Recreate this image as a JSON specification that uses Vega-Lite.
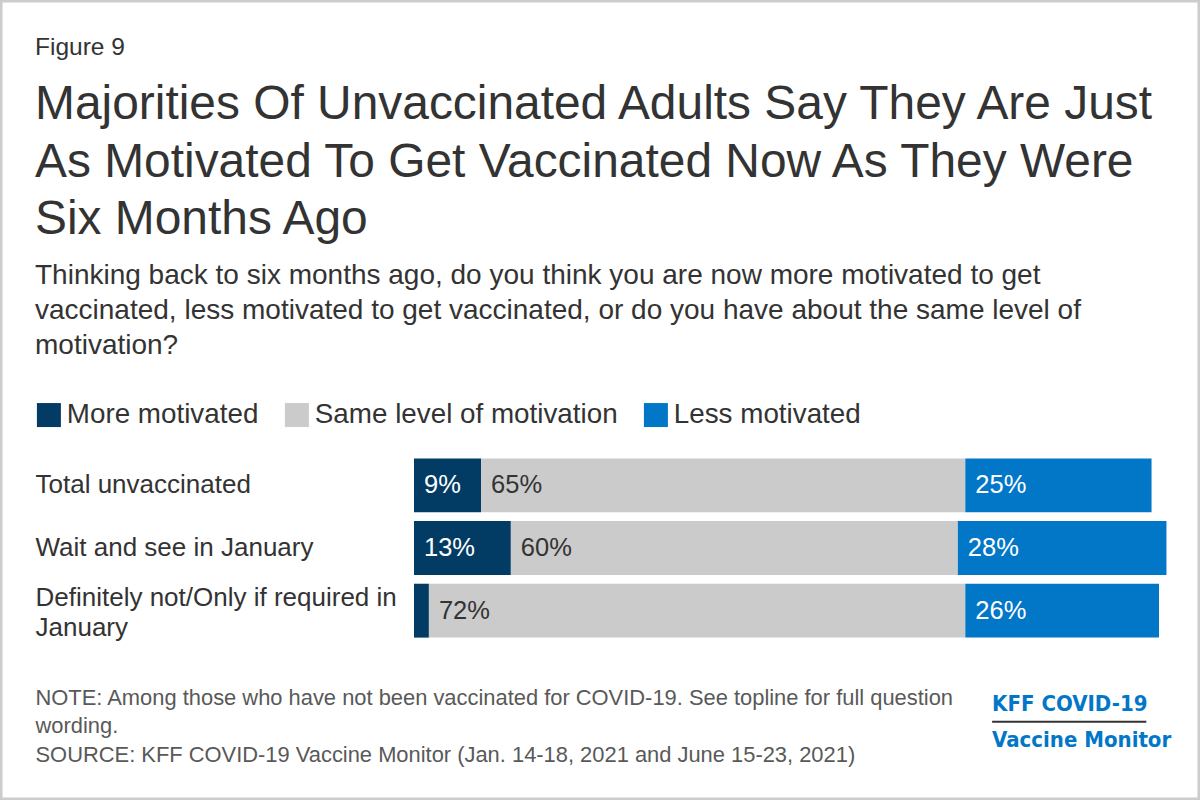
{
  "$schema": "https://vega.github.io/schema/vega-lite/v6.json",
  "width": 1200,
  "height": 800,
  "autosize": {"type": "fit", "contains": "padding"},
  "padding": 0,
  "background": "white",
  "config": {
    "font": "Liberation Sans",
    "view": {"stroke": "#cccccc", "strokeWidth": 5}
  },
  "title": {
    "text": "Figure 9",
    "subtitle": ["Majorities Of Unvaccinated Adults Say They Are Just", "As Motivated To Get Vaccinated Now As They Were", "Six Months Ago"],
    "anchor": "start",
    "frame": "group",
    "orient": "top",
    "offset": -245,
    "dx": 35,
    "fontSize": 24.5,
    "fontWeight": "normal",
    "color": "#333333",
    "subtitleFontSize": 47.9,
    "subtitleColor": "#333333",
    "subtitleLineHeight": 57.5,
    "subtitlePadding": 21
  },
  "datasets": {
    "bars": [
      {"group": "Total unvaccinated", "response": "More motivated", "order": 1, "value": 9},
      {"group": "Total unvaccinated", "response": "Same level of motivation", "order": 2, "value": 65},
      {"group": "Total unvaccinated", "response": "Less motivated", "order": 3, "value": 25},
      {"group": "Wait and see in January", "response": "More motivated", "order": 1, "value": 13},
      {"group": "Wait and see in January", "response": "Same level of motivation", "order": 2, "value": 60},
      {"group": "Wait and see in January", "response": "Less motivated", "order": 3, "value": 28},
      {"group": "Definitely not/Only if required in|January", "response": "More motivated", "order": 1, "value": 2},
      {"group": "Definitely not/Only if required in|January", "response": "Same level of motivation", "order": 2, "value": 72},
      {"group": "Definitely not/Only if required in|January", "response": "Less motivated", "order": 3, "value": 26}
    ],
    "logo": [
      {"logo": "KFF COVID-19\nVaccine Monitor"}
    ]
  },
  "layer": [
    {
      "data": {"name": "bars"},
      "transform": [
        {"stack": "value", "groupby": ["group"], "sort": [{"field": "order", "order": "ascending"}], "as": ["start", "end"]}
      ],
      "mark": {"type": "bar"},
      "encoding": {
        "y": {
          "field": "group",
          "type": "nominal",
          "title": null,
          "sort": ["Total unvaccinated", "Wait and see in January", "Definitely not/Only if required in|January"],
          "scale": {"range": [454, 642], "paddingInner": 0.14, "paddingOuter": 0.07},
          "axis": {
            "orient": "left",
            "title": null,
            "domain": false,
            "ticks": false,
            "grid": false,
            "labelPadding": -35,
            "labelAlign": "left",
            "labelBaseline": "middle",
            "labelFontSize": 26,
            "labelColor": "#333333",
            "labelLimit": 0,
            "labelLineHeight": 30,
            "labelOverlap": false,
            "labelOffset": {"condition": {"test": "indexof(datum.value, '|') >= 0", "value": -13}, "value": 0},
            "labelExpr": "split(datum.label, '|')"
          }
        },
        "x": {
          "field": "start",
          "type": "quantitative",
          "scale": {"domain": [0, 100], "range": [414, 1159], "nice": false, "zero": false},
          "axis": {
            "orient": "bottom",
            "domain": false,
            "ticks": false,
            "labels": false,
            "grid": false,
            "title": ["NOTE: Among those who have not been vaccinated for COVID-19. See topline for full question", "wording.", "SOURCE: KFF COVID-19 Vaccine Monitor (Jan. 14-18, 2021 and June 15-23, 2021)"],
            "titleX": 35,
            "titleY": -113,
            "titleAlign": "left",
            "titleAnchor": "start",
            "titleBaseline": "top",
            "titleFontSize": 21.9,
            "titleFontWeight": "normal",
            "titleColor": "#595959",
            "titleLineHeight": 28.5
          }
        },
        "x2": {"field": "end"},
        "color": {
          "field": "response",
          "type": "nominal",
          "scale": {
            "domain": ["More motivated", "Same level of motivation", "Less motivated"],
            "range": ["#023c64", "#cbcbcb", "#0277c8"]
          },
          "legend": {
            "orient": "none",
            "legendX": 35,
            "legendY": 262,
            "direction": "horizontal",
            "title": ["Thinking back to six months ago, do you think you are now more motivated to get", "vaccinated, less motivated to get vaccinated, or do you have about the same level of", "motivation?"],
            "titleFontSize": 28,
            "titleFontWeight": "normal",
            "titleColor": "#333333",
            "titleLineHeight": 35,
            "titleLimit": 1150,
            "titlePadding": 41,
            "titleBaseline": "top",
            "symbolType": "square",
            "symbolSize": 576,
            "symbolStrokeWidth": 0,
            "symbolOpacity": 1,
            "labelFontSize": 27.8,
            "labelColor": "#333333",
            "labelOffset": 4,
            "columnPadding": 24,
            "labelLimit": 0,
            "padding": 0
          }
        }
      }
    },
    {
      "data": {"name": "bars"},
      "transform": [
        {"stack": "value", "groupby": ["group"], "sort": [{"field": "order", "order": "ascending"}], "as": ["start", "end"]},
        {"filter": "datum.value >= 5"},
        {"calculate": "datum.value + '%'", "as": "label"}
      ],
      "mark": {"type": "text", "align": "left", "baseline": "middle", "dx": 10, "fontSize": 25.5},
      "encoding": {
        "y": {"field": "group", "type": "nominal", "title": null, "sort": ["Total unvaccinated", "Wait and see in January", "Definitely not/Only if required in|January"]},
        "x": {"field": "start", "type": "quantitative"},
        "text": {"field": "label", "type": "nominal"},
        "color": {
          "condition": {"test": "datum.response === 'Same level of motivation'", "value": "#333333"},
          "value": "#ffffff"
        }
      }
    },
    {
      "data": {"name": "logo"},
      "mark": {"type": "text", "align": "left", "baseline": "middle", "lineBreak": "\n", "lineHeight": 36, "yOffset": 93.5, "font": "DejaVu Sans Condensed", "fontWeight": "bold", "fontSize": 22, "color": "#0277c8"},
      "encoding": {
        "x": {"datum": 77.6, "type": "quantitative"},
        "y": {"datum": "Definitely not/Only if required in|January", "type": "nominal", "title": null},
        "text": {"field": "logo", "type": "nominal"}
      }
    },
    {
      "data": {"name": "logo"},
      "mark": {"type": "rule", "yOffset": 111, "color": "#333333", "strokeWidth": 2},
      "encoding": {
        "x": {"datum": 77.6, "type": "quantitative"},
        "x2": {"datum": 98.3},
        "y": {"datum": "Definitely not/Only if required in|January", "type": "nominal", "title": null}
      }
    }
  ]
}
